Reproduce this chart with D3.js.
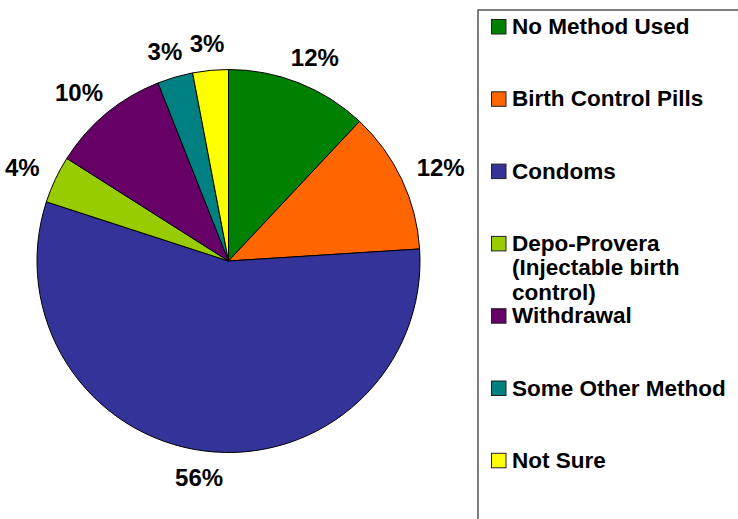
<!DOCTYPE html>
<html>
<head>
<meta charset="utf-8">
<script src="https://cdn.jsdelivr.net/npm/d3@7"></script>
<style>
  body { margin: 0; background: #fff; }
  svg { display: block; font-family: "Liberation Sans", Arial, sans-serif; font-weight: bold; }
</style>
</head>
<body>
<svg id="chart" width="738" height="519"></svg>
<script>
// Chart data
var categories = ["No Method Used", "Birth Control Pills", "Condoms", "Depo-Provera (Injectable birth control)", "Withdrawal", "Some Other Method", "Not Sure"];
var legendLines = [["No Method Used"], ["Birth Control Pills"], ["Condoms"], ["Depo-Provera", "(Injectable birth", "control)"], ["Withdrawal"], ["Some Other Method"], ["Not Sure"]];
var values = [12, 12, 56, 4, 10, 3, 3];
var colors = ["#008000", "#FF6600", "#333399", "#99CC00", "#660066", "#008080", "#FFFF00"];

var svg = d3.select("svg#chart");

// Pie geometry
var cx = 228.5, cy = 261, radius = 191.5;
var labelGap = 19;
var labelSize = 24;

var data = values.map((v, i) => ({ name: categories[i], value: v, color: colors[i] }));

var pie = d3.pie()
  .value(d => d.value)
  .sort(null);

var arcs = pie(data);

var arc = d3.arc()
  .innerRadius(0)
  .outerRadius(radius);

var g = svg.append("g")
  .attr("transform", "translate(" + cx + "," + cy + ")");

g.selectAll("path.slice")
  .data(arcs)
  .enter().append("path")
  .attr("class", "slice")
  .attr("d", arc)
  .attr("fill", d => d.data.color)
  .attr("stroke", "#000")
  .attr("stroke-width", 1)
  .attr("stroke-linejoin", "round");

// Percent labels outside the pie, pushed out by half their box
g.selectAll("text.pct")
  .data(arcs)
  .enter().append("text")
  .attr("class", "pct")
  .attr("font-size", labelSize)
  .attr("text-anchor", "middle")
  .attr("dominant-baseline", "central")
  .text(d => d.data.value + "%")
  .each(function(d) {
    var a = (d.startAngle + d.endAngle) / 2;
    var w = this.getComputedTextLength();
    var h = 16;
    var x = Math.sin(a) * (radius + labelGap + w / 2);
    var y = -Math.cos(a) * (radius + labelGap + h / 2);
    d3.select(this).attr("x", x).attr("y", y);
  });

// Legend box
var legendX = 478, legendY = 10;
svg.append("rect")
  .attr("x", legendX)
  .attr("y", legendY)
  .attr("width", 300)
  .attr("height", 560)
  .attr("fill", "none")
  .attr("stroke", "#555")
  .attr("stroke-width", 1.5);

var rowStep = 72.3, firstBaseline = 34, lineStep = 24.5;
var legendFont = 22.5;

var items = svg.selectAll("g.legendItem")
  .data(data)
  .enter().append("g")
  .attr("class", "legendItem")
  .attr("transform", (d, i) => "translate(0," + (firstBaseline + i * rowStep) + ")");

items.append("rect")
  .attr("x", 491.5)
  .attr("y", -14.5)
  .attr("width", 14.5)
  .attr("height", 14.5)
  .attr("fill", d => d.color)
  .attr("stroke", "#222")
  .attr("stroke-width", 1);

items.append("text")
  .attr("x", 512)
  .attr("y", 0)
  .attr("font-size", legendFont)
  .selectAll("tspan")
  .data((d, i) => legendLines[i])
  .enter().append("tspan")
  .attr("x", 512)
  .attr("dy", (d, j) => j === 0 ? 0 : lineStep)
  .text(d => d);
</script>
</body>
</html>
